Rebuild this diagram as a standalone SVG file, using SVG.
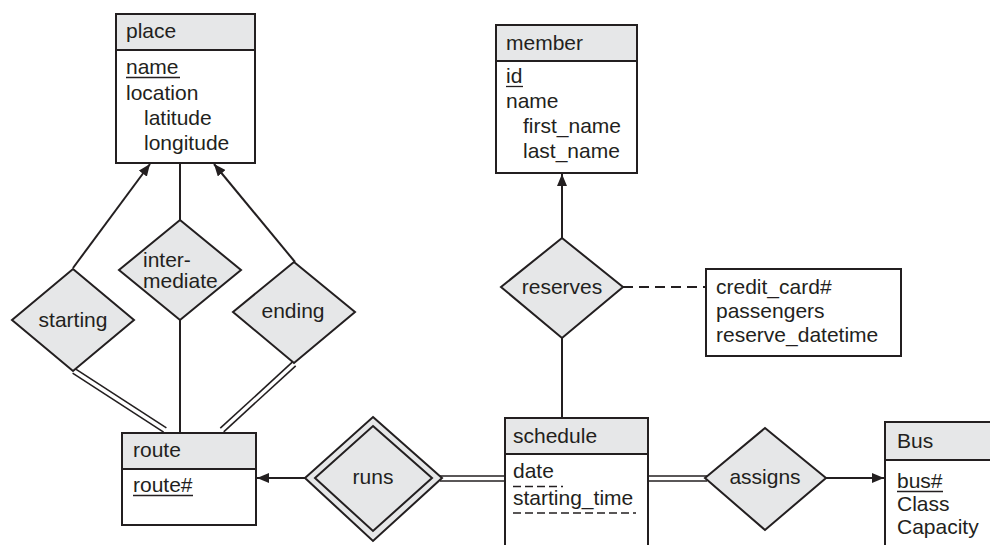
<svg xmlns="http://www.w3.org/2000/svg" width="990" height="545" viewBox="0 0 990 545">
<style>
text{font-family:"Liberation Sans",Arial,sans-serif;font-size:21px;fill:#231f20}
.c{text-anchor:middle}
.hd{fill:#e6e7e8;stroke:#231f20;stroke-width:2}
.bd{fill:#ffffff;stroke:#231f20;stroke-width:2}
.dm{fill:#e6e7e8;stroke:#231f20;stroke-width:2}
.ln{stroke:#231f20;stroke-width:2;fill:none}
.dl{stroke:#231f20;stroke-width:1.6;fill:none}
.ul{stroke:#231f20;stroke-width:1.3}
.du{stroke:#231f20;stroke-width:1.6;stroke-dasharray:8 4}
</style>
<defs>
<marker id="ah" viewBox="0 0 12 10" refX="12" refY="5" markerWidth="12" markerHeight="10" markerUnits="userSpaceOnUse" orient="auto">
<path d="M0,0 L12,5 L0,10 Z" fill="#231f20"/>
</marker>
</defs>
<rect width="990" height="545" fill="#ffffff"/>
<g id="connectors">
<line class="ln" x1="73" y1="268" x2="150" y2="164" marker-end="url(#ah)"/>
<line class="ln" x1="180" y1="163" x2="180" y2="220"/>
<line class="ln" x1="295" y1="262" x2="214" y2="164" marker-end="url(#ah)"/>
<line class="dl" x1="72.6" y1="373.1" x2="163.6" y2="432.1"/>
<line class="dl" x1="75.4" y1="368.9" x2="166.4" y2="427.9"/>
<line class="ln" x1="180" y1="320" x2="180" y2="433"/>
<line class="dl" x1="295.7" y1="365.8" x2="223.7" y2="431.8"/>
<line class="dl" x1="292.3" y1="362.2" x2="220.3" y2="428.2"/>
<line class="ln" x1="305" y1="478" x2="257" y2="478" marker-end="url(#ah)"/>
<line class="dl" x1="440" y1="476" x2="505" y2="476"/>
<line class="dl" x1="440" y1="481" x2="505" y2="481"/>
<line class="dl" x1="648" y1="476" x2="707" y2="476"/>
<line class="dl" x1="648" y1="481" x2="707" y2="481"/>
<line class="ln" x1="826" y1="478" x2="884" y2="478" marker-end="url(#ah)"/>
<line class="ln" x1="562" y1="238" x2="562" y2="174" marker-end="url(#ah)"/>
<line class="ln" x1="562" y1="338" x2="562" y2="418"/>
<line class="ln" x1="623" y1="287" x2="706" y2="287" stroke-dasharray="10 6"/>
</g>
<g id="place">
<rect class="bd" x="116" y="14" width="139" height="149"/>
<rect class="hd" x="116" y="14" width="139" height="36"/>
<text x="126" y="38">place</text>
<text x="126" y="74">name</text>
<line class="ul" x1="126" y1="77.5" x2="180" y2="77.5"/>
<text x="126" y="100">location</text>
<text x="144" y="125">latitude</text>
<text x="144" y="150">longitude</text>
</g>
<g id="starting">
<polygon class="dm" points="73,269 134,320 73,371 12,320"/>
<text class="c" x="73" y="327">starting</text>
</g>
<g id="intermediate">
<polygon class="dm" points="180,220 241,270 180,320 119,270"/>
<text x="143" y="267">inter-</text>
<text x="143" y="288">mediate</text>
</g>
<g id="ending">
<polygon class="dm" points="294,262 355,312 294,363 233,312"/>
<text class="c" x="293" y="318">ending</text>
</g>
<g id="route">
<rect class="bd" x="122" y="433" width="134" height="92"/>
<rect class="hd" x="122" y="433" width="134" height="36"/>
<text x="133" y="457">route</text>
<text x="133" y="492">route#</text>
<line class="ul" x1="133" y1="495.5" x2="193" y2="495.5"/>
</g>
<g id="runs">
<polygon class="dm" points="373,417 442,478 373,541 305,478"/>
<polygon class="dm" points="373,426 432,478 373,531 315,478"/>
<text class="c" x="373" y="484">runs</text>
</g>
<g id="schedule">
<rect class="bd" x="505" y="418" width="143" height="140"/>
<rect class="hd" x="505" y="418" width="143" height="36"/>
<text x="513" y="443">schedule</text>
<text x="513" y="478">date</text>
<line class="du" x1="513" y1="486.5" x2="563" y2="486.5"/>
<text x="513" y="505">starting_time</text>
<line class="du" x1="513" y1="513" x2="636" y2="513"/>
</g>
<g id="assigns">
<polygon class="dm" points="765,428 826,478 765,530 705,478"/>
<text class="c" x="765" y="484">assigns</text>
</g>
<g id="bus">
<rect class="bd" x="885" y="422" width="120" height="140"/>
<rect class="hd" x="885" y="422" width="120" height="38"/>
<text x="897" y="448">Bus</text>
<text x="897" y="488">bus#</text>
<line class="ul" x1="897" y1="491.5" x2="943" y2="491.5"/>
<text x="897" y="511">Class</text>
<text x="897" y="534">Capacity</text>
</g>
<g id="member">
<rect class="bd" x="496" y="25" width="141" height="148"/>
<rect class="hd" x="496" y="25" width="141" height="36"/>
<text x="506" y="50">member</text>
<text x="506" y="83">id</text>
<line class="ul" x1="506" y1="86.5" x2="523" y2="86.5"/>
<text x="506" y="108">name</text>
<text x="523" y="133">first_name</text>
<text x="523" y="158">last_name</text>
</g>
<g id="reserves">
<polygon class="dm" points="562,238 623,287 562,338 501,287"/>
<text class="c" x="562" y="294">reserves</text>
</g>
<g id="reserves_attrs">
<rect class="bd" x="706" y="269" width="195" height="87"/>
<text x="716" y="294">credit_card#</text>
<text x="716" y="318">passengers</text>
<text x="716" y="342">reserve_datetime</text>
</g>
</svg>
